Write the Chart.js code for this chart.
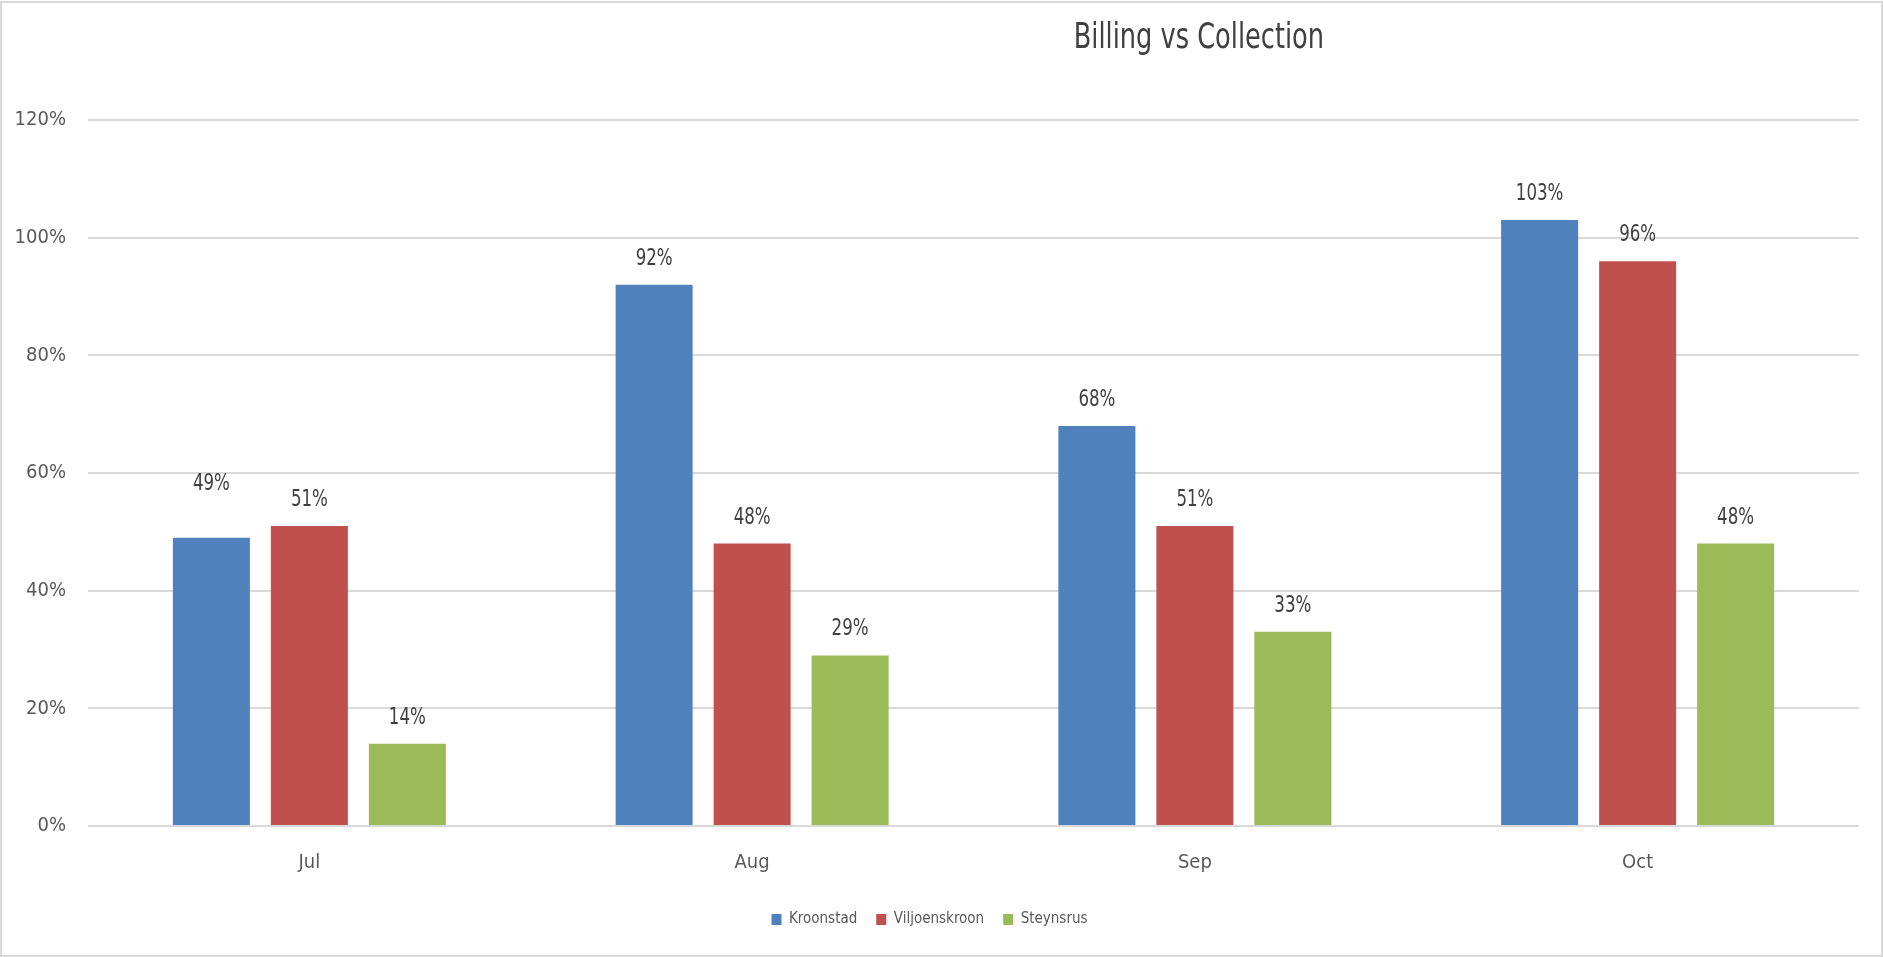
<!DOCTYPE html>
<html>
<head>
<meta charset="utf-8">
<title>Billing vs Collection</title>
<script src="https://cdn.jsdelivr.net/npm/chart.js@4/dist/chart.umd.min.js"></script>
<style>
  html, body { margin: 0; padding: 0; background: #fff; }
  #wrap { width: 1883px; height: 957px; position: relative; }
</style>
</head>
<body>
<div id="wrap"><canvas id="billingChart"></canvas></div>
<script>
// monthly collection rate per town, in percent
const months = ["Jul", "Aug", "Sep", "Oct"];
const kroonstad = [49, 92, 68, 103];
const viljoenskroon = [51, 48, 51, 96];
const steynsrus = [14, 29, 33, 48];
const yTicks = [0, 20, 40, 60, 80, 100, 120];

const FONT = '"Liberation Sans Narrow", "DejaVu Sans Condensed", "Arial Narrow", sans-serif';
Chart.defaults.font.family = FONT;

// draws text stretched a little taller than the font's own shape
function tallText(ctx, text, x, y, stretch) {
    ctx.save();
    ctx.translate(x, y);
    ctx.scale(1, stretch);
    ctx.fillText(text, 0, 0);
    ctx.restore();
}

// white page with a thin grey frame
const framePlugin = {
    id: "frame",
    beforeDraw(chart) {
        const { ctx, width, height } = chart;
        ctx.save();
        ctx.fillStyle = "#ffffff";
        ctx.fillRect(0, 0, width, height);
        ctx.strokeStyle = "#d9d9d9";
        ctx.lineWidth = 2;
        ctx.strokeRect(1, 2, width - 2, height - 3);
        ctx.restore();
    },
};

// chart title sits right of centre
const titlePlugin = {
    id: "offsetTitle",
    afterDraw(chart, args, opts) {
        const { ctx, width } = chart;
        ctx.save();
        ctx.font = `${opts.size}px ${FONT}`;
        ctx.fillStyle = "#404040";
        ctx.textAlign = "center";
        ctx.textBaseline = "alphabetic";
        tallText(ctx, opts.text, width * opts.xFrac, opts.baseline, opts.stretch);
        ctx.restore();
    },
};

// value labels above each bar
const valueLabels = {
    id: "valueLabels",
    afterDatasetsDraw(chart, args, opts) {
        const { ctx } = chart;
        ctx.save();
        ctx.font = `${opts.size}px ${FONT}`;
        ctx.fillStyle = "#404040";
        ctx.textAlign = "center";
        ctx.textBaseline = "alphabetic";
        chart.data.datasets.forEach((ds, di) => {
            chart.getDatasetMeta(di).data.forEach((bar, i) => {
                const lift = (opts.lift[di + "," + i] || opts.gap);
                tallText(ctx, ds.data[i] + "%", bar.x, bar.y - lift, opts.stretch);
            });
        });
        ctx.restore();
    },
};

const ctx = document.getElementById("billingChart");
const billingChart = new Chart(ctx, {
    type: "bar",
    data: {
        labels: months,
        datasets: [
            { label: "Kroonstad", data: kroonstad, backgroundColor: "#4f81bd" },
            { label: "Viljoenskroon", data: viljoenskroon, backgroundColor: "#c0504d" },
            { label: "Steynsrus", data: steynsrus, backgroundColor: "#9bbb59" },
        ],
    },
    options: {
        responsive: true,
        maintainAspectRatio: false,
        animation: false,
        layout: {
            padding: { top: 120, right: 24, left: 0, bottom: 20 },
        },
        datasets: {
            bar: {
                categoryPercentage: 0.664,
                barPercentage: 0.786,
                borderWidth: 0,
            },
        },
        scales: {
            x: {
                grid: { display: false, drawTicks: false },
                border: { display: false },
                ticks: { color: "#595959", font: { size: 20 }, padding: 25 },
                afterFit: (scale) => { scale.height = 67; },
            },
            y: {
                min: 0,
                max: 120,
                afterBuildTicks: (scale) => {
                    scale.ticks = yTicks.map((v) => ({ value: v }));
                },
                grid: { color: "#d9d9d9", lineWidth: 2, drawTicks: false },
                border: { display: false },
                ticks: {
                    color: "#595959",
                    font: { size: 20 },
                    padding: 22,
                    callback: (v) => v + "%",
                },
                afterFit: (scale) => { scale.width = 88; },
            },
        },
        plugins: {
            title: { display: false },
            tooltip: { enabled: false },
            legend: {
                position: "bottom",
                labels: {
                    boxWidth: 10,
                    boxHeight: 11,
                    padding: 19,
                    color: "#595959",
                    font: { size: 15 },
                },
            },
            offsetTitle: { text: "Billing vs Collection", size: 28.5, stretch: 1.25, xFrac: 0.6367, baseline: 48 },
            valueLabels: { size: 18.5, stretch: 1.22, gap: 20, lift: { "0,0": 48 } },
        },
    },
    plugins: [framePlugin, titlePlugin, valueLabels],
});
</script>
</body>
</html>
